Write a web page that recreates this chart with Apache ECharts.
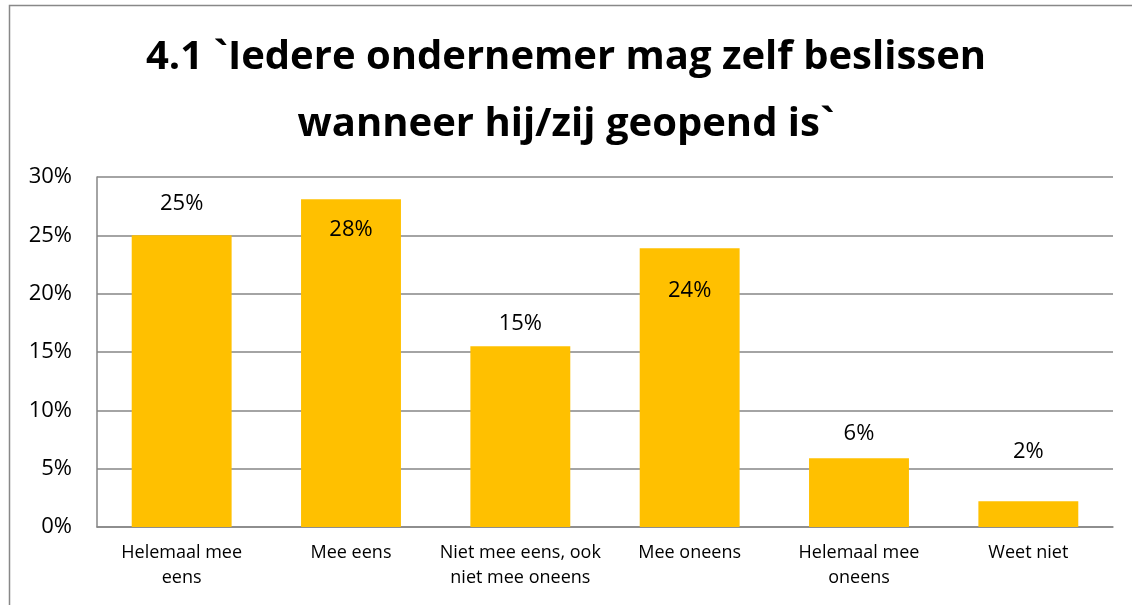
<!DOCTYPE html>
<html>
<head>
<meta charset="utf-8">
<script src="https://cdn.jsdelivr.net/npm/echarts@6/dist/echarts.min.js"></script>
<style>
  html, body { margin: 0; padding: 0; background: #fff; }
  #chart { width: 1132px; height: 605px; }
</style>
</head>
<body>
<div id="chart"></div>
<script>
  var categories = ['Helemaal mee\neens', 'Mee eens', 'Niet mee eens, ook\nniet mee oneens', 'Mee oneens', 'Helemaal mee\noneens', 'Weet niet']
  var values = [25.0, 28.1, 15.5, 23.9, 5.9, 2.2]
  var labels = ['25%', '28%', '15%', '24%', '6%', '2%']
  // label placement per bar, as in the original
  var labelPos = ['top', 'insideTop', 'top', 'insideTop', 'top', 'top']
  var labelDist = [21, 20, 11, 32, 13, 39]
  var yTicks = ['0%', '5%', '10%', '15%', '20%', '25%', '30%']

  var font = '"Open Sans", "Noto Sans", sans-serif'
  var myChart = echarts.init(document.getElementById('chart'))
  var option = {
    animation: false,
    title: {
      text: '4.1 `Iedere ondernemer mag zelf beslissen\nwanneer hij/zij geopend is`',
      left: 'center',
      top: 19,
      textStyle: {
        fontFamily: font,
        fontWeight: 'bold',
        fontSize: 40,
        lineHeight: 67,
        color: '#000'
      }
    },
    graphic: [{
      type: 'rect',
      shape: { x: 9.5, y: 5.5, width: 1140, height: 602 },
      style: { fill: 'none', stroke: '#888', lineWidth: 1.5 },
      silent: true
    }],
    grid: { left: 97, right: 19, top: 177, bottom: 78 },
    xAxis: {
      type: 'category',
      data: categories,
      axisLine: { show: true, lineStyle: { color: '#868686', width: 1.5 } },
      axisTick: { show: false },
      axisLabel: {
        interval: 0,
        margin: 13,
        fontFamily: font,
        fontSize: 18,
        lineHeight: 25,
        color: '#000'
      }
    },
    yAxis: {
      type: 'value',
      min: 0,
      max: 30,
      interval: 5,
      axisLine: { show: true, lineStyle: { color: '#868686', width: 1.5 } },
      axisTick: { show: false },
      splitLine: { lineStyle: { color: '#868686', width: 1.5 } },
      axisLabel: {
        margin: 25,
        fontFamily: font,
        fontSize: 22,
        color: '#000',
        formatter: function (v) { return yTicks[v / 5] }
      }
    },
    series: [{
      type: 'bar',
      barCategoryGap: '41%',
      itemStyle: { color: '#FFC000' },
      data: values.map(function (v, i) {
        return {
          value: v,
          label: {
            show: true,
            position: labelPos[i],
            distance: labelDist[i],
            formatter: labels[i],
            fontFamily: font,
            fontSize: 22,
            color: '#000'
          }
        }
      })
    }]
  }
  myChart.setOption(option)
</script>
</body>
</html>
